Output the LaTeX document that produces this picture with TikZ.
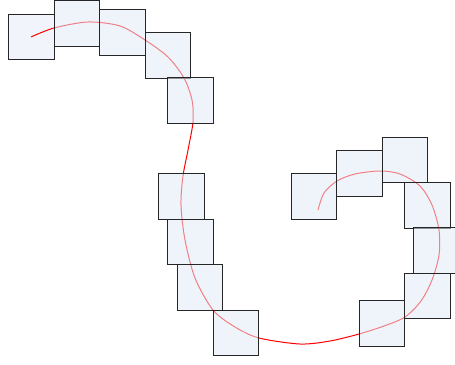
\documentclass[tikz,border=0pt]{standalone}
\usepackage{tikz}
\definecolor{cellfill}{RGB}{226,234,246}
\definecolor{cellfirst}{RGB}{241,245,251}

\begin{document}
\begin{tikzpicture}[x=1pt, y=-1pt,
		cell/.style={draw=black!85, line width=1.4pt, fill=cellfill, fill opacity=0.55,
			minimum size=45.5pt, inner sep=0pt, outer sep=0pt}]

		\useasboundingbox (0,0) rectangle (455,364);

		% First cell sits under the curve
		\node[cell, fill=cellfirst, fill opacity=1] (box1) at (31.5,37) {};

		% The red track
		\coordinate (start) at (31,37);
		\coordinate (stop) at (318,210);
		\draw[red, line width=1pt] plot[smooth, tension=0.5] coordinates {
			(start) (54,28) (88,22) (120,26) (145,40) (168,57) (184,78) (192,100)
			(193,122) (188,150) (183,176) (181,205) (185,240) (195,278) (213,310)
			(235,327) (259,338) (300,344) (330,341) (359,334) (384,326) (405,317)
			(421,301) (432,280) (439,255) (439,230) (432,205) (420,186) (400,174)
			(380,171) (355,174) (337,181) (324,193) (stop)};

		% Left chain of cells
		\node[cell] (box2) at (77,23.5) {};
		\node[cell] (box3) at (122.5,32.5) {};
		\node[cell] (box4) at (168,55.5) {};
		\node[cell] (box5) at (190.5,100.5) {};
		\node[cell] (box6) at (181.5,196.5) {};
		\node[cell] (box7) at (190.5,242) {};
		\node[cell] (box8) at (200,287.5) {};
		\node[cell] (box9) at (236,333) {};

		% Right chain of cells
		\node[cell] (box10) at (314,196.5) {};
		\node[cell] (box11) at (359.5,173.5) {};
		\node[cell] (box12) at (405,160) {};
		\node[cell] (box13) at (427.5,205.5) {};
		\node[cell] (box14) at (436.5,250.5) {};
		\node[cell] (box15) at (427.5,296) {};
		\node[cell] (box16) at (382,323.5) {};
	\end{tikzpicture}
\end{document}
